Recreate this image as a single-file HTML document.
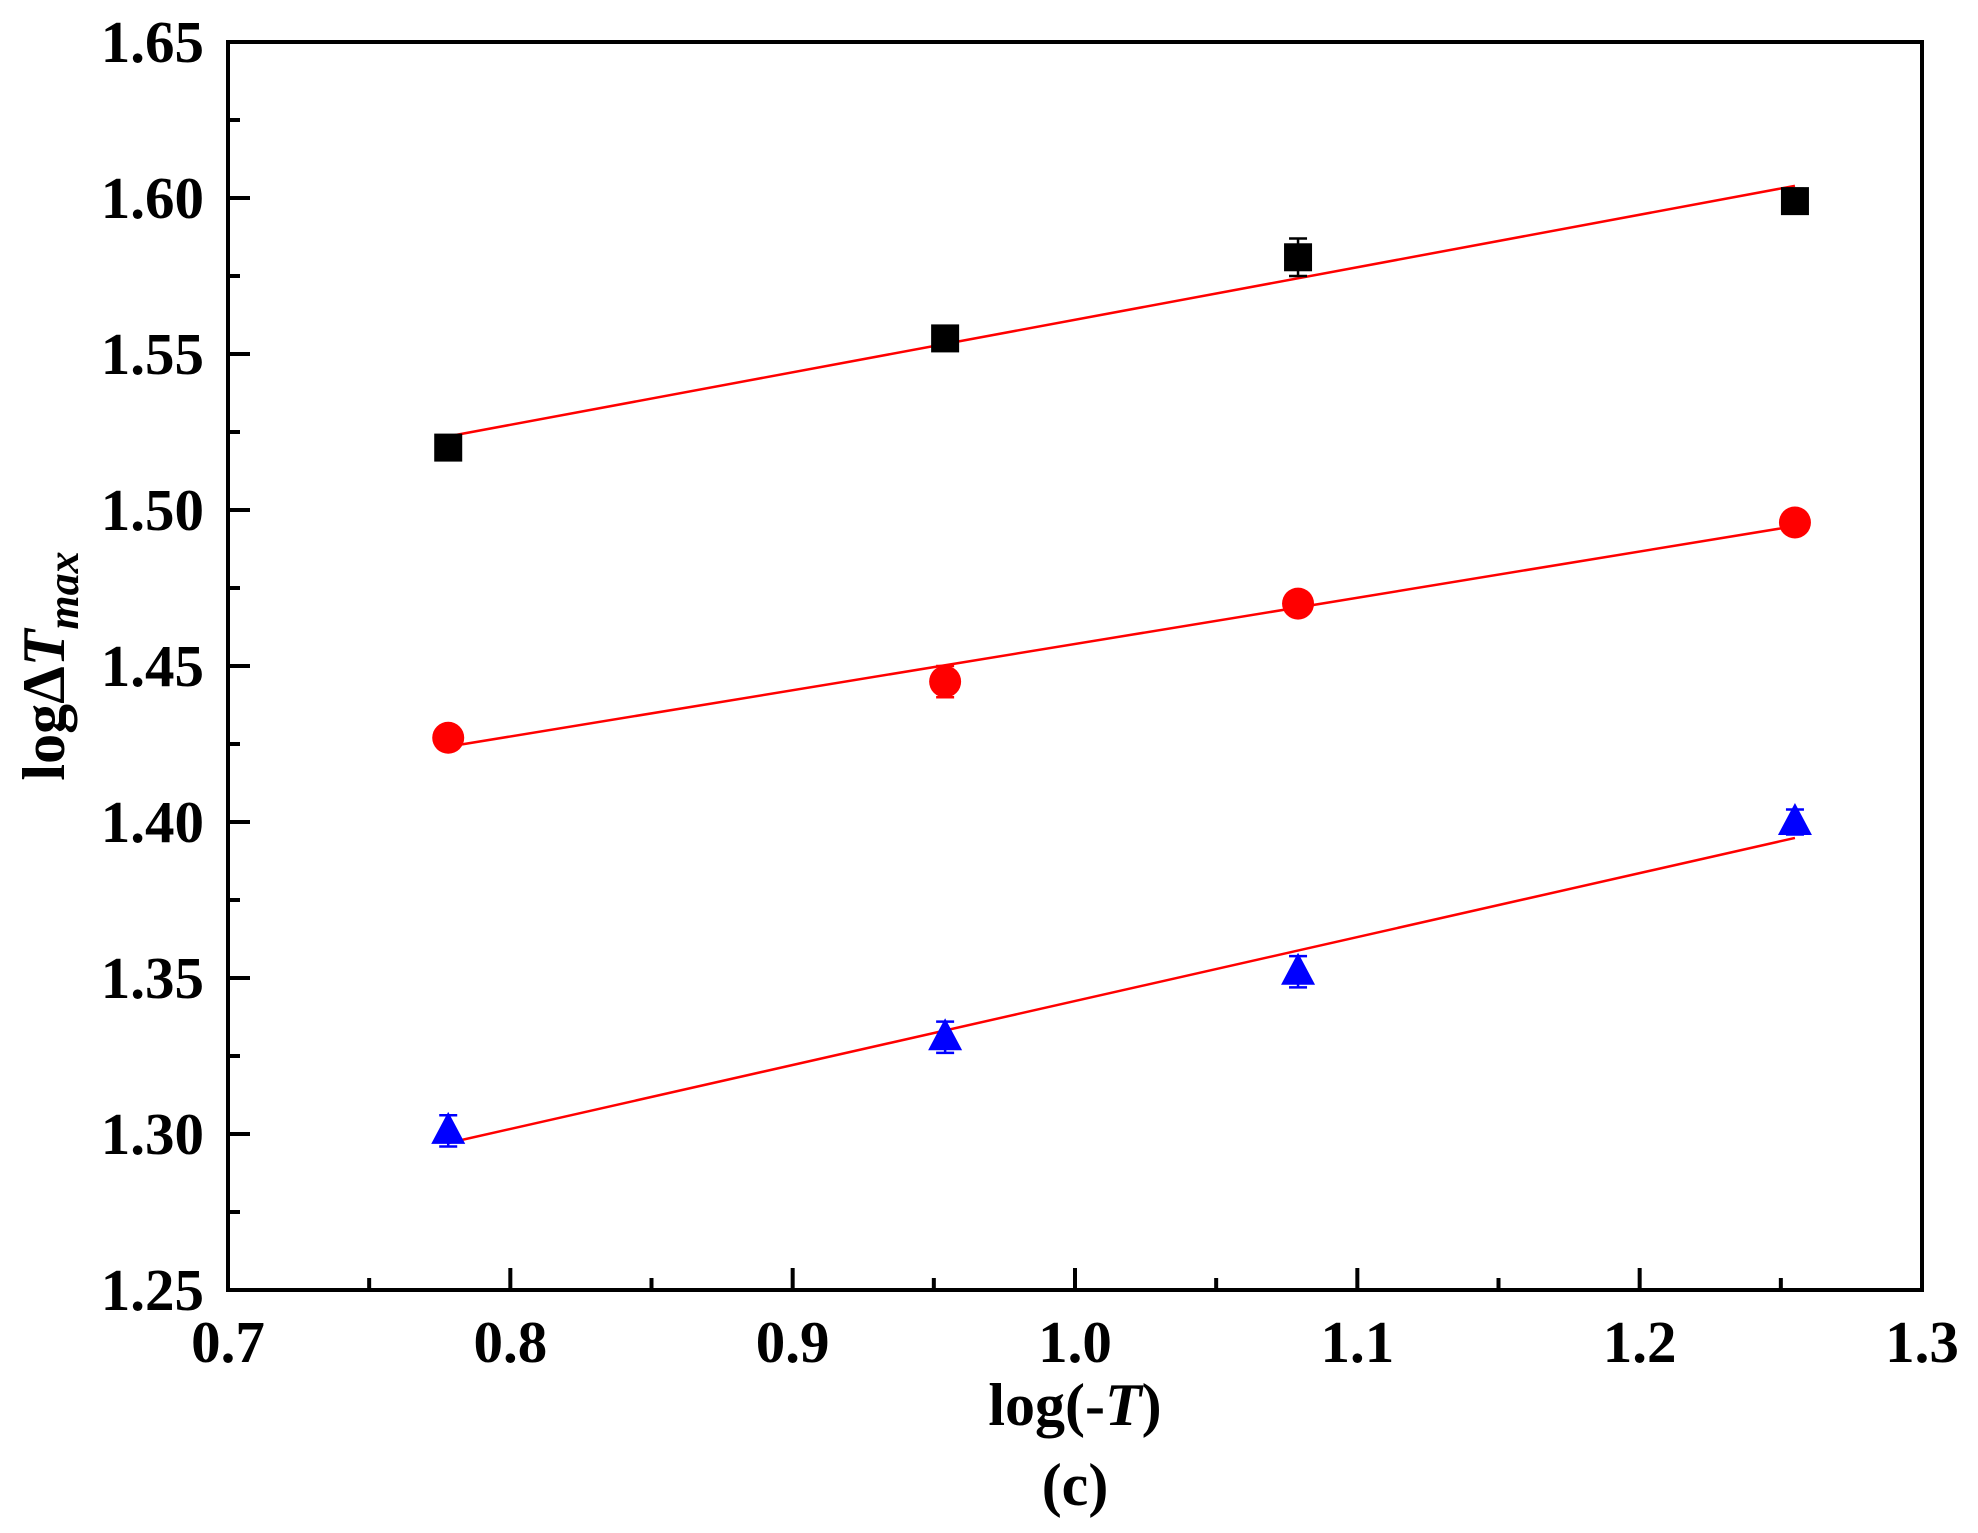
<!DOCTYPE html>
<html><head><meta charset="utf-8"><style>
html,body{margin:0;padding:0;background:#fff}
svg{display:block;font-family:"Liberation Serif",serif;font-weight:bold}
</style></head><body>
<svg id="chart" width="1978" height="1533" viewBox="0 0 1978 1533" xmlns="http://www.w3.org/2000/svg">
<text x="1075" y="1425" font-size="60" text-anchor="middle">log(-<tspan font-style="italic">T</tspan>)</text>
<text x="1075" y="1505" font-size="60" text-anchor="middle">(c)</text>
<text transform="translate(64,666) rotate(-90)" font-size="60" text-anchor="middle">logΔ<tspan font-style="italic">T</tspan><tspan font-style="italic" font-size="44" dy="14">max</tspan></text>
</svg>
<script>
const xVals = [0.778, 0.954, 1.079, 1.255];
const blackVals = [1.520, 1.555, 1.581, 1.599];
const redVals = [1.427, 1.445, 1.470, 1.496];
const blueVals = [1.301, 1.331, 1.352, 1.400];
const blackErr = [0.002, 0.002, 0.006, 0.004];
const redErr = [0.002, 0.005, 0.002, 0.002];
const blueErr = [0.005, 0.005, 0.005, 0.004];
const xTicks = ["0.7","0.8","0.9","1.0","1.1","1.2","1.3"];
const yTicks = ["1.25","1.30","1.35","1.40","1.45","1.50","1.55","1.60","1.65"];

const NS="http://www.w3.org/2000/svg";
const svg=document.getElementById('chart');
const L=228,R=1922,T=42,B=1290;
const X=v=>L+(v-0.7)/(0.6)*(R-L);
const Y=v=>B-(v-1.25)/(0.4)*(B-T);
function mk(tag,attrs){const e=document.createElementNS(NS,tag);for(const k in attrs)e.setAttribute(k,attrs[k]);svg.appendChild(e);return e;}

for(let i=0;i<=12;i++){const v=0.7+i*0.05;const x=X(v);const len=i%2?12:22;
 const t=mk('line',{x1:x,x2:x,y1:B,y2:B-len,stroke:'#000','stroke-width':4});
 
 }
xTicks.forEach(s=>{const t=mk('text',{x:X(parseFloat(s)),y:B+72,'font-size':59,'text-anchor':'middle'});t.textContent=s;
 
 });
for(let i=0;i<=16;i++){const v=1.25+i*0.025;const y=Y(v);const len=i%2?12:22;
 const t=mk('line',{x1:L,x2:L+len,y1:y,y2:y,stroke:'#000','stroke-width':4});
 
 }
yTicks.forEach(s=>{const t=mk('text',{x:L-24,y:Y(parseFloat(s))+20,'font-size':59,'text-anchor':'end'});t.textContent=s;
 
 });

function fit(ys){const n=xVals.length;const mx=xVals.reduce((a,b)=>a+b)/n,my=ys.reduce((a,b)=>a+b)/n;
 let sxy=0,sxx=0;for(let i=0;i<n;i++){sxy+=(xVals[i]-mx)*(ys[i]-my);sxx+=(xVals[i]-mx)**2;}
 const m=sxy/sxx;return [m,my-m*mx];}

const series=[['black',blackVals,blackErr,'square','#000'],['red',redVals,redErr,'circle','#ff0000'],['blue',blueVals,blueErr,'triangle','#0000ff']];
series.forEach(([nm,ys,es,shape,col])=>{
 const [m,b]=fit(ys);const x0=xVals[0],x1=xVals[xVals.length-1];
 const ln=mk('line',{x1:X(x0),y1:Y(m*x0+b),x2:X(x1),y2:Y(m*x1+b),stroke:'#ff0000','stroke-width':2.5});
 
 
 ys.forEach((v,i)=>{const cx=X(xVals[i]),cy=Y(v);
  const eb=mk('path',{d:`M${cx},${Y(v+es[i])}V${Y(v-es[i])}M${cx-9},${Y(v+es[i])}H${cx+9}M${cx-9},${Y(v-es[i])}H${cx+9}`,stroke:col,'stroke-width':2.5,fill:'none'});
  
  
  let p;
  if(shape==='square')p=mk('rect',{x:cx-14,y:cy-14,width:28,height:28,fill:col});
  else if(shape==='circle')p=mk('circle',{cx:cx,cy:cy,r:16,fill:col});
  else p=mk('polygon',{points:`${cx},${cy-19} ${cx+17},${cy+13} ${cx-17},${cy+13}`,fill:col});
  
  
 });
});
const fr=mk('rect',{x:L,y:T,width:R-L,height:B-T,fill:'none',stroke:'#000','stroke-width':4});


</script>
</body></html>
